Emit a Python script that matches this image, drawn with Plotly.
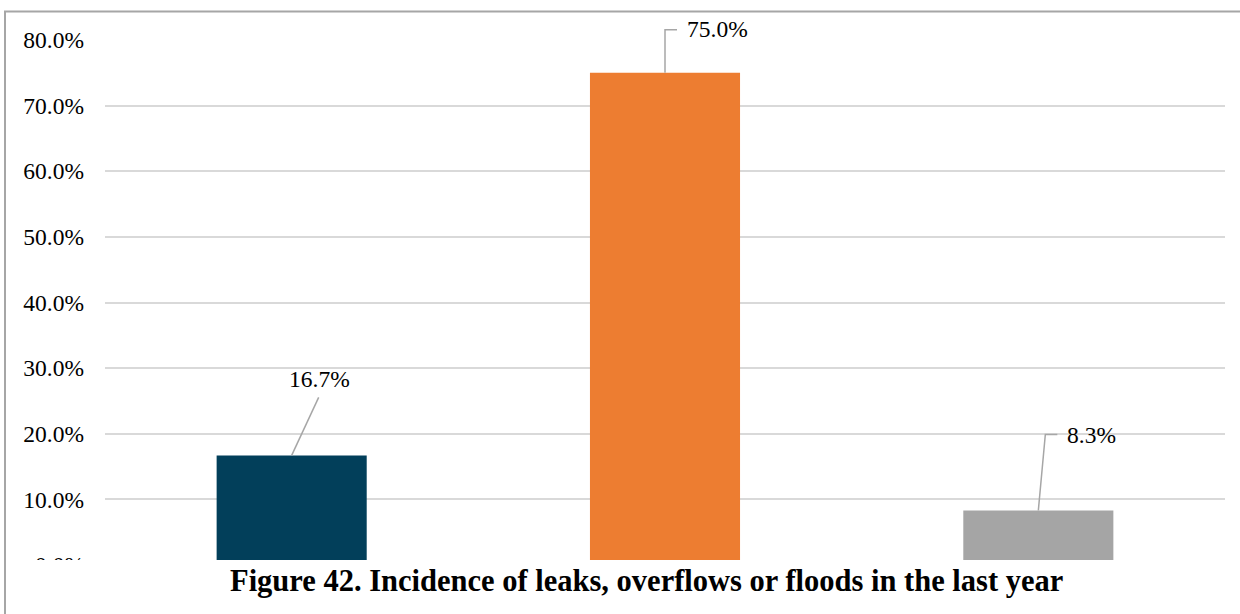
import plotly.graph_objects as go

# Survey responses: incidence of leaks, overflows or floods in the last year
categories = ["Yes", "No", "Don't know"]
shares = [0.167, 0.750, 0.083]
bar_colors = ["#023f5a", "#ed7d31", "#a5a5a5"]
label_texts = ["16.7%", "75.0%", "8.3%"]
tick_values = [0.0, 0.1, 0.2, 0.3, 0.4, 0.5, 0.6, 0.7, 0.8]
caption = "Figure 42. Incidence of leaks, overflows or floods in the last year"

W, H = 1240, 614
ML, MR, MT, MB = 105, 15, 40, 49
PW, PH = W - ML - MR, H - MT - MB
Y_MAX = 0.8

SERIF = "Liberation Serif, Times New Roman, serif"

fig = go.Figure()
fig.add_trace(go.Bar(
    x=categories, y=shares, marker=dict(color=bar_colors, line=dict(width=0)),
    width=0.402, hoverinfo="skip",
))

# Leader-line geometry (pixel offsets from each bar top) and label placement
leader_paths = ["M0,0 L27,58", "M0,0 L0,43 L12,43", "M0,0 L7,76 L19,76"]
label_shift = [(28, 76, "center"), (20, 44, "left"), (27, 76, "left")]

n = len(categories)
for i, (cat, val) in enumerate(zip(categories, shares)):
    # paper-referenced anchors so the leaders are not clipped at the plot edge
    ax_paper = (i + 0.5) / n
    ay_paper = val / Y_MAX
    fig.add_shape(
        type="path", xref="paper", yref="paper", xsizemode="pixel", ysizemode="pixel",
        xanchor=ax_paper, yanchor=ay_paper, path=leader_paths[i],
        line=dict(color="#a6a6a6", width=1.5), layer="above",
    )
    dx, dy, anch = label_shift[i]
    fig.add_annotation(
        x=i, y=val, xref="x", yref="y", text=label_texts[i], showarrow=False,
        xshift=dx, yshift=dy, xanchor=anch, yanchor="middle",
        font=dict(family=SERIF, size=23.5, color="#000000"),
    )

def px_x(p):
    return (p - ML) / PW

def px_y(p):
    return 1 - (p - MT) / PH

# Outer frame of the chart box (left and top edges)
fig.add_shape(type="line", xref="paper", yref="paper",
              x0=px_x(5), x1=px_x(5), y0=px_y(11.5), y1=px_y(614),
              line=dict(color="#a6a6a6", width=2), layer="above")
fig.add_shape(type="line", xref="paper", yref="paper",
              x0=px_x(4), x1=px_x(1240), y0=px_y(11.5), y1=px_y(11.5),
              line=dict(color="#a6a6a6", width=2), layer="above")
# Caption panel over the bottom of the chart
fig.add_shape(type="rect", xref="paper", yref="paper",
              x0=px_x(6), x1=px_x(1240), y0=px_y(560), y1=px_y(614),
              fillcolor="#ffffff", line=dict(width=0), layer="above")
fig.add_annotation(
    x=px_x(646), y=px_y(581), xref="paper", yref="paper", text="<b>" + caption + "</b>",
    showarrow=False, xanchor="center", yanchor="middle",
    font=dict(family=SERIF, size=30.5, color="#000000"),
)

fig.update_layout(
    width=W, height=H, margin=dict(l=ML, r=MR, t=MT, b=MB, pad=0),
    paper_bgcolor="#ffffff", plot_bgcolor="#ffffff", showlegend=False,
    bargap=0.6,
)
fig.update_xaxes(showticklabels=False, showgrid=False, zeroline=False, showline=False, ticks="")
fig.update_yaxes(
    range=[0, Y_MAX], tickvals=tick_values, tickformat=".1%",
    showgrid=True, gridcolor="#d9d9d9", gridwidth=1.5, zeroline=False, showline=False,
    ticks="", ticklabelstandoff=20,
    tickfont=dict(family=SERIF, size=23.5, color="#000000"),
)

fig.write_html("out.html")
